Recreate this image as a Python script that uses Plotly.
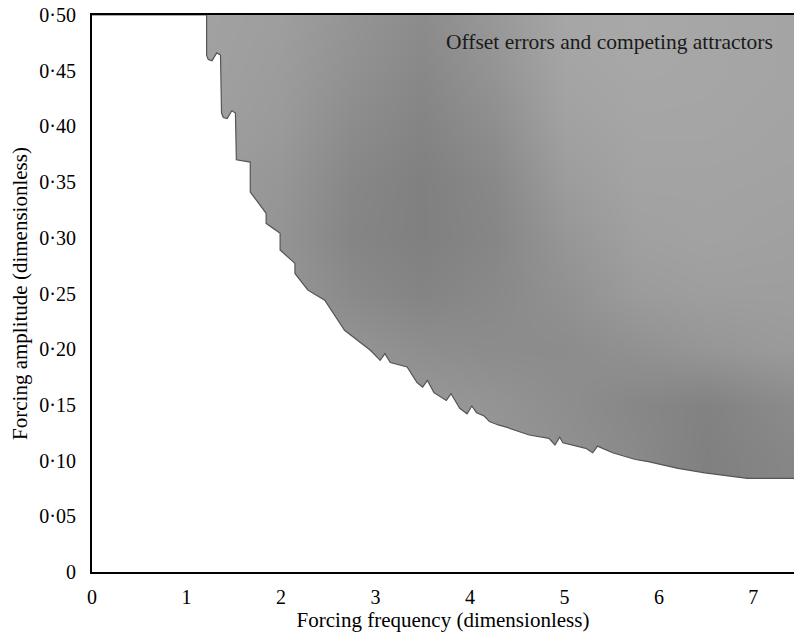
import plotly.graph_objects as go

# Boundary of the grey region (forcing frequency, forcing amplitude)
boundary_x = [0.0, 1.213, 1.213, 1.23, 1.27, 1.32, 1.36, 1.371, 1.39, 1.43, 1.48, 1.518, 1.528, 1.675, 1.675,
              1.843, 1.843, 1.991, 1.991, 2.148, 2.148, 2.285, 2.463, 2.673, 2.946, 3.05, 3.10,
              3.157, 3.335, 3.440, 3.50, 3.55, 3.619, 3.75, 3.80, 3.892, 3.97, 4.02, 4.070, 4.15,
              4.207, 4.30, 4.385, 4.627, 4.837, 4.90, 4.95, 4.984, 5.226, 5.30, 5.35, 5.510,
              5.751, 5.888, 6.203, 6.486, 6.938, 7.50]
boundary_y = [0.500, 0.500, 0.464, 0.460, 0.459, 0.466, 0.464, 0.412, 0.408, 0.407, 0.414, 0.412, 0.370, 0.368, 0.341,
              0.322, 0.313, 0.304, 0.289, 0.277, 0.268, 0.253, 0.244, 0.217, 0.199, 0.190, 0.196,
              0.188, 0.184, 0.170, 0.166, 0.172, 0.161, 0.154, 0.160, 0.147, 0.142, 0.149, 0.143, 0.140,
              0.135, 0.132, 0.130, 0.123, 0.120, 0.114, 0.121, 0.116, 0.111, 0.107, 0.113, 0.107,
              0.101, 0.099, 0.093, 0.089, 0.084, 0.084]

# Grey level of the shaded region (0 = black, 255 = white), read on a coarse grid
shade_x = [1.0, 2.0, 2.75, 3.5, 4.25, 5.0, 5.75, 6.5, 7.5]
shade_y = [0.00, 0.10, 0.15, 0.20, 0.25, 0.30, 0.35, 0.40, 0.45, 0.50]
shade_z = [
    [155, 150, 150, 150, 150, 145, 138, 128, 135],
    [155, 150, 150, 150, 150, 145, 138, 128, 135],
    [155, 152, 152, 152, 148, 142, 135, 130, 140],
    [155, 152, 148, 142, 140, 140, 145, 150, 155],
    [156, 150, 138, 132, 137, 145, 155, 158, 158],
    [157, 148, 133, 128, 134, 150, 160, 162, 160],
    [158, 150, 135, 128, 136, 156, 163, 163, 162],
    [160, 154, 140, 132, 142, 161, 165, 165, 163],
    [162, 156, 145, 136, 148, 164, 167, 166, 164],
    [162, 158, 148, 140, 152, 166, 168, 166, 164],
]

x_ticks = [0, 1, 2, 3, 4, 5, 6, 7]
y_ticks = [0, 0.05, 0.10, 0.15, 0.20, 0.25, 0.30, 0.35, 0.40, 0.45, 0.50]
y_ticktext = ["0", "0·05", "0·10", "0·15", "0·20", "0·25", "0·30", "0·35", "0·40", "0·45", "0·50"]

label = "Offset errors and competing attractors"

fig = go.Figure()
fig.add_trace(go.Heatmap(
    x=shade_x, y=shade_y, z=shade_z, zmin=0, zmax=255, zsmooth="best",
    colorscale=[[0, "rgb(0,0,0)"], [1, "rgb(255,255,255)"]],
    showscale=False, hoverinfo="skip"))
fig.add_trace(go.Scatter(
    x=boundary_x, y=boundary_y, mode="lines", fill="tozeroy",
    fillcolor="white", line=dict(color="#555555", width=1.2),
    hoverinfo="skip", showlegend=False))

font_fam = "Liberation Serif, Times New Roman, serif"
fig.add_annotation(x=7.23, y=0.476, xref="x", yref="y", text=label,
                   showarrow=False, xanchor="right", yanchor="middle",
                   font=dict(family=font_fam, size=21.5, color="#1a1a1a"))

fig.update_layout(
    width=794, height=636,
    margin=dict(l=92, r=0, t=15, b=64),
    paper_bgcolor="white", plot_bgcolor="white",
    showlegend=False,
    font=dict(family=font_fam, size=20, color="black"),
    xaxis=dict(range=[0, 7.43], tickvals=x_ticks, ticktext=[str(v) for v in x_ticks],
               showgrid=False, zeroline=False, showline=True, linecolor="black", linewidth=2,
               mirror=True, ticks="", ticklabelstandoff=6,
               title=dict(text="Forcing frequency (dimensionless)", font=dict(size=21), standoff=4)),
    yaxis=dict(range=[0, 0.5], tickvals=y_ticks, ticktext=y_ticktext,
               showgrid=False, zeroline=False, showline=True, linecolor="black", linewidth=2,
               ticks="", ticklabelstandoff=10,
               title=dict(text="Forcing amplitude (dimensionless)", font=dict(size=21), standoff=6)),
)

fig.write_html("out.html")
